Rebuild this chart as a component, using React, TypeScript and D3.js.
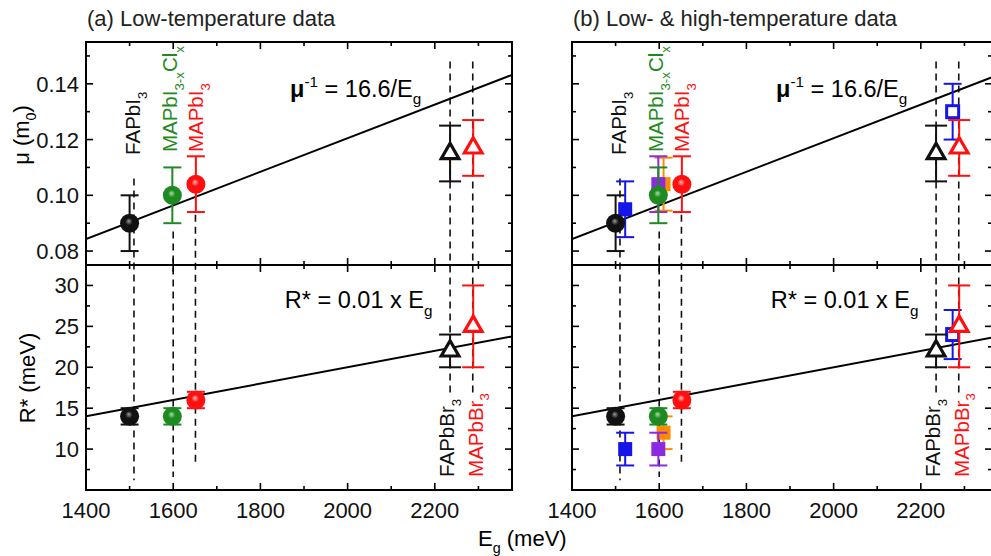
import React from "react";
import * as d3 from "d3";

const FONT = "'Liberation Sans', Arial, Helvetica, sans-serif";

// ---------- data ----------
// low-temperature compounds
const lowNames = ["FAPbI3", "MAPbI3-xClx", "MAPbI3", "FAPbBr3", "MAPbBr3"];
const lowEg = [1500, 1598, 1652, 2235, 2288];
const lowMu = [0.09, 0.1, 0.104, 0.115, 0.117];
const lowMuErr = [0.01, 0.01, 0.01, 0.01, 0.01];
const lowR = [14, 14, 16, 22, 25];
const lowRErr = [1, 1, 1, 2, 5];
const lowColors = ["#111111", "#1f8a22", "#ff1010", "#111111", "#ff1010"];
const lowShapes = ["sphere", "sphere", "sphere", "triangle", "triangle"];

// high-temperature data (panel b only)
const highEg = [1522, 1610, 1598, 2273];
const highMu = [0.095, 0.104, 0.104, 0.13];
const highMuErr = [0.01, 0.0095, 0.01, 0.01];
const highR = [10, 12, 10, 24];
const highRErr = [2, 2, 2, 3];
const highColors = ["#1515e8", "#ff8c00", "#8a2be2", "#1515e8"];
const highFilled = [true, true, true, false];

// dashed guide lines (Eg, top end in mu, bottom end in R*)
const guideEg = [1510, 1600, 1651, 2235, 2287];
const guideMuTop = [0.106, 0.087, 0.093, 0.148, 0.148];
const guideRBottom = [6.2, 6.6, 8.3, 16.4, 16.6];

// axis ticks
const xMajor = [1400, 1600, 1800, 2000, 2200];
const xMinor = [1500, 1700, 1900, 2100, 2300];
const muMajor = [0.08, 0.1, 0.12, 0.14];
const muMinor = [0.09, 0.11, 0.13, 0.15];
const rMajor = [10, 15, 20, 25, 30];
const rMinor = [7.5, 12.5, 17.5, 22.5, 27.5];
const muDomain = [0.075, 0.155];
const rDomain = [5, 32.5];

// fit constants
const muFitConst = 16.6; // mu^-1 = 16.6 / Eg(eV)
const rFitConst = 0.01; // R* = 0.01 x Eg

// ---------- layout ----------
const Y0 = 42;
const YM = 265;
const YB = 490;
const PX_PER_MEV = 426 / 977;

type Part = [string, "n" | "sub" | "sup"];

function Rich({ parts, size, x, y, rotate, fill, anchor, weightFirst }: any) {
  let cur = 0;
  const tspans = parts.map((p: Part, i: number) => {
    const [t, k] = p;
    const target = k === "sub" ? 0.32 * size : k === "sup" ? -0.42 * size : 0;
    const dy = target - cur;
    cur = target;
    return (
      <tspan
        key={i}
        dy={dy}
        fontSize={k === "n" ? size : size * 0.65}
        fontWeight={weightFirst && i === 0 ? "bold" : "normal"}
      >
        {t}
      </tspan>
    );
  });
  const transform = rotate
    ? `translate(${x},${y}) rotate(-90)`
    : `translate(${x},${y})`;
  return (
    <text
      transform={transform}
      fill={fill || "#000"}
      fontFamily={FONT}
      textAnchor={anchor || "start"}
      fontSize={size}
    >
      {tspans}
    </text>
  );
}

const nameParts: Record<string, Part[]> = {
  FAPbI3: [["FAPbI", "n"], ["3", "sub"]],
  "MAPbI3-xClx": [["MAPbI", "n"], ["3-x", "sub"], ["Cl", "n"], ["x", "sub"]],
  MAPbI3: [["MAPbI", "n"], ["3", "sub"]],
  FAPbBr3: [["FAPbBr", "n"], ["3", "sub"]],
  MAPbBr3: [["MAPbBr", "n"], ["3", "sub"]],
};
const labelOffsetPx = [6, 4, 8, 4, 10];
const labelStartMu = [0.1145, 0.1155, 0.1155];
const labelStartR = 6.6;

function gradId(c: string) {
  return "g" + c.replace("#", "");
}

function Sphere({ cx, cy, color }: any) {
  return <circle cx={cx} cy={cy} r={9.5} fill={`url(#${gradId(color)})`} />;
}

function Triangle({ cx, cy, color }: any) {
  const d = d3.symbol(d3.symbolTriangle, 135)() as string;
  return (
    <path
      d={d}
      transform={`translate(${cx},${cy})`}
      fill="#fff"
      stroke={color}
      strokeWidth={3.2}
      strokeLinejoin="miter"
    />
  );
}

function Square({ cx, cy, color, filled }: any) {
  return filled ? (
    <rect x={cx - 7} y={cy - 7} width={14} height={14} fill={color} />
  ) : (
    <rect
      x={cx - 6}
      y={cy - 6}
      width={12}
      height={12}
      fill="#fff"
      stroke={color}
      strokeWidth={3}
    />
  );
}

function ErrBar({ x, y1, y2, color, cap }: any) {
  const c = cap || 9;
  return (
    <g stroke={color} strokeWidth={2}>
      <line x1={x} x2={x} y1={y1} y2={y2} />
      <line x1={x - c} x2={x + c} y1={y1} y2={y1} />
      <line x1={x - c} x2={x + c} y1={y2} y2={y2} />
    </g>
  );
}

function Panel({ x0, x1, title, showY, high, id }: any) {
  const xMax = 1400 + (x1 - x0) / PX_PER_MEV;
  const x = d3.scaleLinear().domain([1400, xMax]).range([x0, x1]);
  const yT = d3.scaleLinear().domain(muDomain).range([YM, Y0]);
  const yB = d3.scaleLinear().domain(rDomain).range([YB, YM]);

  const muLine = d3
    .line<number>()
    .x((e) => x(e))
    .y((e) => yT(e / 1000 / muFitConst));
  const rLine = d3
    .line<number>()
    .x((e) => x(e))
    .y((e) => yB(rFitConst * e));
  const fitX = [1400, xMax];

  const tickEls: any[] = [];
  const addX = (vals: number[], len: number) => {
    vals.forEach((v) => {
      const px = x(v);
      tickEls.push(
        <line key={`t0${v}`} x1={px} x2={px} y1={Y0} y2={Y0 + len} />,
        <line key={`tm1${v}`} x1={px} x2={px} y1={YM} y2={YM - len} />,
        <line key={`tm2${v}`} x1={px} x2={px} y1={YM} y2={YM + len} />,
        <line key={`tb${v}`} x1={px} x2={px} y1={YB} y2={YB - len} />
      );
    });
  };
  addX(xMajor, 7);
  addX(xMinor, 4);
  const addY = (vals: number[], sc: any, len: number, k: string) => {
    vals.forEach((v) => {
      const py = sc(v);
      tickEls.push(
        <line key={`l${k}${v}`} x1={x0} x2={x0 + len} y1={py} y2={py} />,
        <line key={`r${k}${v}`} x1={x1} x2={x1 - len} y1={py} y2={py} />
      );
    });
  };
  addY(muMajor, yT, 7, "a");
  addY(muMinor, yT, 4, "b");
  addY(rMajor, yB, 7, "c");
  addY(rMinor, yB, 4, "d");

  const clipT = `clipT${id}`;
  const clipB = `clipB${id}`;

  return (
    <g>
      <defs>
        <clipPath id={clipT}>
          <rect x={x0} y={Y0} width={x1 - x0} height={YM - Y0} />
        </clipPath>
        <clipPath id={clipB}>
          <rect x={x0} y={YM} width={x1 - x0} height={YB - YM} />
        </clipPath>
      </defs>
      <text x={x0 + 1} y={26} fontFamily={FONT} fontSize={22} fill="#222">
        {title}
      </text>

      {/* dashed guides */}
      <g stroke="#111" strokeWidth={1.6} strokeDasharray="7,5">
        {guideEg.map((e, i) => (
          <line
            key={i}
            x1={x(e)}
            x2={x(e)}
            y1={yT(guideMuTop[i])}
            y2={yB(guideRBottom[i])}
          />
        ))}
      </g>

      {/* fits */}
      <path
        d={muLine(fitX) as string}
        stroke="#000"
        strokeWidth={2}
        fill="none"
        clipPath={`url(#${clipT})`}
      />
      <path
        d={rLine(fitX) as string}
        stroke="#000"
        strokeWidth={2}
        fill="none"
        clipPath={`url(#${clipB})`}
      />

      {/* equations */}
      <Rich
        x={x(1868)}
        y={yT(0.1353)}
        size={23.5}
        weightFirst
        parts={[
          ["\u03bc", "n"],
          ["-1", "sup"],
          [" = 16.6/E", "n"],
          ["g", "sub"],
        ]}
      />
      <Rich
        x={x(1856)}
        y={yB(27.2)}
        size={23.5}
        parts={[
          ["R* = 0.01 x E", "n"],
          ["g", "sub"],
        ]}
      />

      {/* high-temperature markers */}
      {high &&
        highEg.map((e, i) => (
          <g key={`h${i}`}>
            <ErrBar
              x={x(e)}
              y1={yT(highMu[i] - highMuErr[i])}
              y2={yT(highMu[i] + highMuErr[i])}
              color={highColors[i]}
            />
            <ErrBar
              x={x(e)}
              y1={yB(highR[i] - highRErr[i])}
              y2={yB(highR[i] + highRErr[i])}
              color={highColors[i]}
            />
            <Square
              cx={x(e)}
              cy={yT(highMu[i])}
              color={highColors[i]}
              filled={highFilled[i]}
            />
            <Square
              cx={x(e)}
              cy={yB(highR[i])}
              color={highColors[i]}
              filled={highFilled[i]}
            />
          </g>
        ))}

      {/* low-temperature markers */}
      {lowEg.map((e, i) => {
        const c = lowColors[i];
        const M = lowShapes[i] === "sphere" ? Sphere : Triangle;
        const cap = lowShapes[i] === "sphere" ? 9 : 11;
        return (
          <g key={`l${i}`}>
            <ErrBar
              x={x(e)}
              y1={yT(lowMu[i] - lowMuErr[i])}
              y2={yT(lowMu[i] + lowMuErr[i])}
              color={c}
              cap={cap}
            />
            <ErrBar
              x={x(e)}
              y1={yB(lowR[i] - lowRErr[i])}
              y2={yB(lowR[i] + lowRErr[i])}
              color={c}
              cap={cap}
            />
            <M cx={x(e)} cy={yT(lowMu[i])} color={c} />
            <M cx={x(e)} cy={yB(lowR[i])} color={c} />
          </g>
        );
      })}

      {/* compound labels */}
      {lowNames.map((n, i) => {
        const lx = x(guideEg[i]) + labelOffsetPx[i];
        const ly = i < 3 ? yT(labelStartMu[i]) : yB(labelStartR);
        return (
          <Rich
            key={`n${i}`}
            x={lx}
            y={ly}
            rotate
            size={20.5}
            fill={lowColors[i]}
            parts={nameParts[n]}
          />
        );
      })}

      {/* frame */}
      <g stroke="#000" strokeWidth={2} fill="none">
        <rect x={x0} y={Y0} width={x1 - x0} height={YB - Y0} />
        <line x1={x0} x2={x1} y1={YM} y2={YM} />
      </g>
      <g stroke="#000" strokeWidth={1.6}>
        {tickEls}
      </g>

      {/* tick labels */}
      {xMajor.map((v) => (
        <text
          key={`xl${v}`}
          x={x(v)}
          y={518}
          textAnchor="middle"
          fontFamily={FONT}
          fontSize={22}
          fill="#111"
        >
          {v}
        </text>
      ))}
      {showY &&
        muMajor.map((v) => (
          <text
            key={`ml${v}`}
            x={x0 - 7}
            y={yT(v) + 8}
            textAnchor="end"
            fontFamily={FONT}
            fontSize={22}
            fill="#111"
          >
            {d3.format(".2f")(v)}
          </text>
        ))}
      {showY &&
        rMajor.map((v) => (
          <text
            key={`rl${v}`}
            x={x0 - 7}
            y={yB(v) + 8}
            textAnchor="end"
            fontFamily={FONT}
            fontSize={22}
            fill="#111"
          >
            {v}
          </text>
        ))}
    </g>
  );
}

export default function App() {
  const gradColors = Array.from(new Set(lowColors));
  const light: Record<string, string> = {
    "#111111": "#9a9a9a",
    "#1f8a22": "#a8e0a8",
    "#ff1010": "#ffc0c0",
  };
  return (
    <svg
      width={991}
      height={556}
      viewBox="0 0 991 556"
      style={{ position: "absolute", left: 0, top: 0, background: "#fff" }}
    >
      <defs>
        {gradColors.map((c) => (
          <radialGradient
            key={c}
            id={gradId(c)}
            cx="50%"
            cy="50%"
            r="55%"
            fx="45%"
            fy="38%"
          >
            <stop offset="0%" stopColor={light[c]} />
            <stop offset="35%" stopColor={c} />
            <stop offset="100%" stopColor={c} />
          </radialGradient>
        ))}
      </defs>
      <rect x={0} y={0} width={991} height={556} fill="#fff" />
      <Panel
        id="a"
        x0={86}
        x1={512}
        title="(a) Low-temperature data"
        showY
        high={false}
      />
      <Panel
        id="b"
        x0={572}
        x1={992}
        title="(b) Low- & high-temperature data"
        showY={false}
        high
      />
      <Rich
        x={29}
        y={135}
        rotate
        anchor="middle"
        size={22}
        parts={[
          ["\u03bc (m", "n"],
          ["0", "sub"],
          [")", "n"],
        ]}
      />
      <Rich
        x={35}
        y={378}
        rotate
        anchor="middle"
        size={22}
        parts={[["R* (meV)", "n"]]}
      />
      <Rich
        x={478}
        y={546}
        size={22}
        parts={[
          ["E", "n"],
          ["g", "sub"],
          [" (meV)", "n"],
        ]}
      />
    </svg>
  );
}
